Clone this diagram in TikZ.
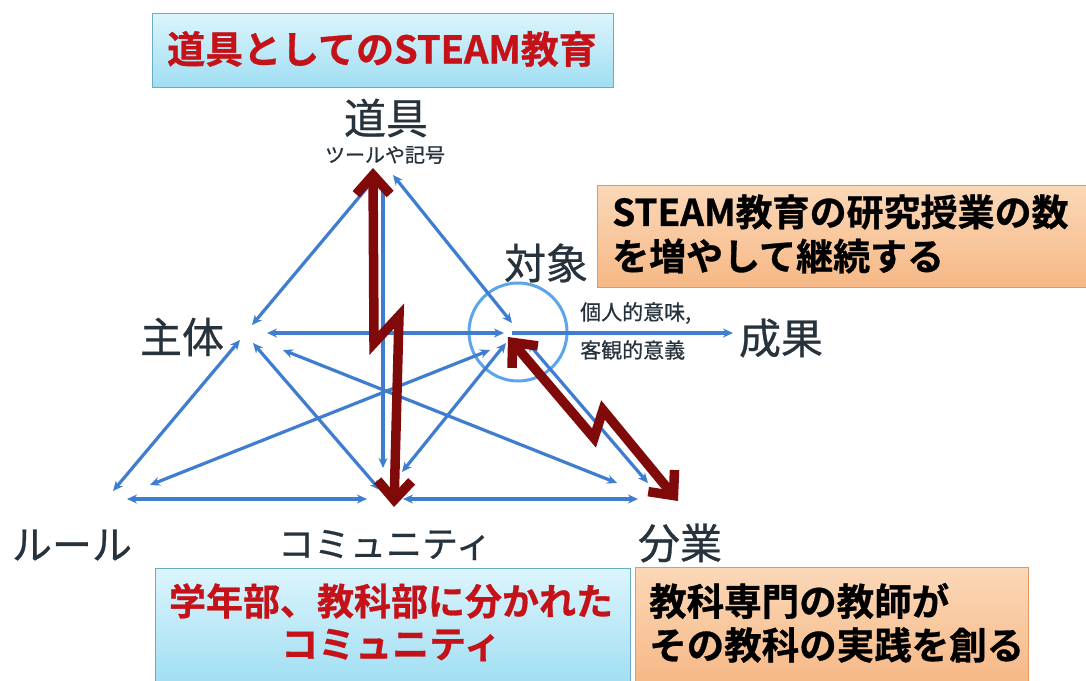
\documentclass[tikz,border=0pt]{standalone}
\usepackage{fontspec}
\newfontfamily\jp[FakeBold=0.6]{Noto Sans CJK JP}
\newfontfamily\jpb[FakeBold=0.8]{Noto Sans CJK JP Bold}
\usetikzlibrary{arrows.meta}
\definecolor{lbl}{RGB}{38,50,60}
\definecolor{bl}{RGB}{62,125,208}
\definecolor{circ}{RGB}{92,165,235}
\definecolor{dred}{RGB}{128,10,10}
\definecolor{tred}{RGB}{196,18,24}
\definecolor{bbtop}{RGB}{220,245,252}
\definecolor{bbbot}{RGB}{160,222,243}
\definecolor{bbdraw}{RGB}{105,172,195}
\definecolor{obtop}{RGB}{251,216,184}
\definecolor{obbot}{RGB}{246,184,134}
\definecolor{obdraw}{RGB}{226,152,100}
\tikzset{
  lab/.style={font=\jp\fontsize{42}{44}\selectfont, text=lbl, inner sep=0pt},
  sm/.style={font=\jp\fontsize{20}{22}\selectfont, text=lbl, inner sep=0pt},
  barrow/.style={draw=bl, line width=3.2pt, {Stealth[length=10pt,width=9pt]}-{Stealth[length=10pt,width=9pt]}},
  sarrow/.style={draw=bl, line width=3.2pt, -{Stealth[length=10pt,width=9pt]}},
  rarrow/.style={draw=dred, line width=9.5pt, line join=miter, miter limit=6, {Straight Barb[length=19pt,width=34pt]}-{Straight Barb[length=19pt,width=34pt]}},
  bluebox/.style={draw=bbdraw, line width=1pt, top color=bbtop, bottom color=bbbot, inner sep=0pt},
  orangebox/.style={draw=obdraw, line width=1pt, top color=obtop, bottom color=obbot, inner sep=0pt},
  boxtxt/.style={font=\jpb\fontsize{37}{40}\selectfont, inner sep=0pt}
}
\begin{document}
\begin{tikzpicture}[x=1pt,y=-1pt]
\useasboundingbox (0,0) rectangle (1086,680);
\fill[white] (0,0) rectangle (1086,680);

% boxes
\node[bluebox, minimum width=461pt, minimum height=74pt] (titlebox) at (382.5,50) {};
\node[boxtxt, text=tred, font=\jpb\fontsize{38}{40}\selectfont] (title) at (382,49) {道具としてのSTEAM教育};
\node[orangebox, minimum width=500pt, minimum height=102pt] (obox) at (847,236) {};
\node[boxtxt, text=black, anchor=west, font=\jpb\fontsize{37}{40}\selectfont] (o1) at (612,212) {STEAM教育の研究授業の数};
\node[boxtxt, text=black, anchor=west, font=\jpb\fontsize{37}{40}\selectfont] (o2) at (612,256) {を増やして継続する};
\node[bluebox, minimum width=475pt, minimum height=116pt] (bbox) at (392.5,626) {};
\node[boxtxt, text=tred] (b1) at (391,601) {学年部、教科部に分かれた};
\node[boxtxt, text=tred] (b2) at (391,645) {コミュニティ};
\node[orangebox, minimum width=393pt, minimum height=117pt] (obox2) at (831.5,625.5) {};
\node[boxtxt, text=black, anchor=west, font=\jpb\fontsize{37.5}{40}\selectfont] (c1) at (649,601) {教科専門の教師が};
\node[boxtxt, text=black, anchor=west, font=\jpb\fontsize{37.5}{40}\selectfont] (c2) at (649,645) {その教科の実践を創る};

% labels
\node[lab] (tool) at (386,118) {道具};
\node[sm] (toolsub) at (385,155) {ツールや記号};
\node[lab] (obj) at (546,263) {対象};
\node[lab] (subj) at (182,337) {主体};
\node[lab] (outc) at (781,338) {成果};
\node[lab, font=\jp\fontsize{40}{44}\selectfont] (rule) at (72,545) {ルール};
\node[lab, font=\jp\fontsize{36}{44}\selectfont] (comm) at (385,545) {コミュニティ};
\node[lab] (div) at (680,543) {分業};
\node[sm, anchor=west, font=\jp\fontsize{21}{22}\selectfont] (m1) at (580,313) {個人的意味,};
\node[sm, anchor=west, font=\jp\fontsize{21}{22}\selectfont] (m2) at (580,350) {客観的意義};

% object circle
\node[draw=circ, line width=3pt, circle, minimum size=98pt, inner sep=0pt] (ocirc) at (518,332) {};

% endpoints
\coordinate (tA) at (376,177); \coordinate (sA) at (252,325);
\coordinate (tB) at (393,175); \coordinate (oA) at (512,323);
\coordinate (tC) at (383,180); \coordinate (cA) at (383,468);
\coordinate (sB) at (267,333); \coordinate (oB) at (504,333);
\coordinate (oC) at (512,333); \coordinate (uA) at (733,333);
\coordinate (sC) at (240,340); \coordinate (rA) at (113,491);
\coordinate (sD) at (253,343); \coordinate (cB) at (380,490);
\coordinate (sE) at (283,350); \coordinate (dA) at (617,483);
\coordinate (rB) at (150,485); \coordinate (oD) at (490,350);
\coordinate (cC) at (402,472); \coordinate (oE) at (506,343);
\coordinate (rC) at (127,499); \coordinate (cD) at (367,499);
\coordinate (cE) at (403,499); \coordinate (dB) at (638,499);
\coordinate (oF) at (527,342); \coordinate (dC) at (648,483);

% blue connectors
\draw[barrow] (sA) -- (tA);
\draw[barrow] (tB) -- (oA);
\draw[barrow] (tC) -- (cA);
\draw[barrow] (sB) -- (oB);
\draw[sarrow] (oC) -- (uA);
\draw[barrow] (sC) -- (rA);
\draw[barrow] (sD) -- (cB);
\draw[barrow] (sE) -- (dA);
\draw[barrow] (rB) -- (oD);
\draw[barrow] (cC) -- (oE);
\draw[barrow] (rC) -- (cD);
\draw[barrow] (cE) -- (dB);
\draw[barrow] (oF) -- (dC);

% red zigzag arrows
\coordinate (rt) at (373,168); \coordinate (r1) at (374,343);
\coordinate (r2) at (399,316); \coordinate (rb) at (394,507);
\draw[rarrow] (rt) -- (r1) -- (r2) -- (rb);
\coordinate (qt) at (508,337); \coordinate (q1) at (594,438);
\coordinate (q2) at (603,410); \coordinate (qb) at (678,501);
\draw[rarrow] (qt) -- (q1) -- (q2) -- (qb);
\end{tikzpicture}
\end{document}
